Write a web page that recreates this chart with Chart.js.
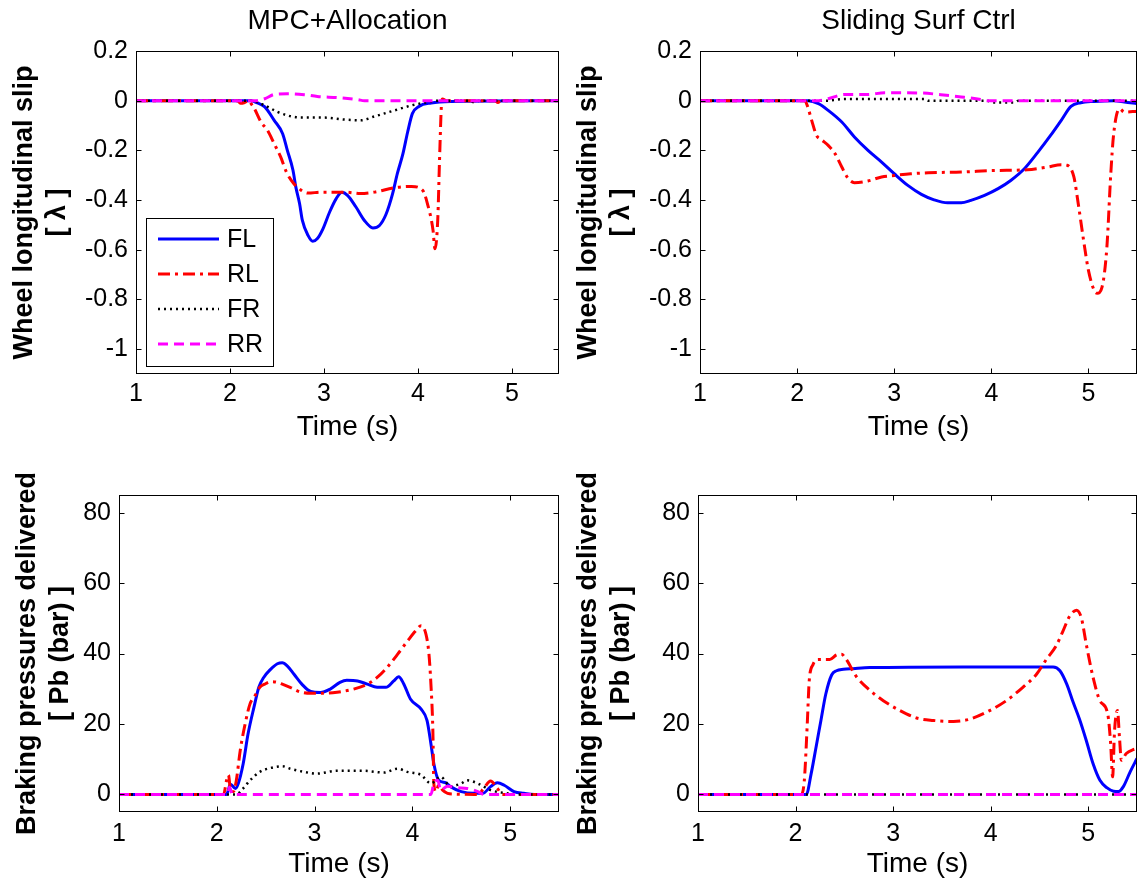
<!DOCTYPE html>
<html>
<head>
<meta charset="utf-8">
<title>Wheel slip and braking pressures</title>
<script src="https://cdn.jsdelivr.net/npm/chart.js@4.4.1/dist/chart.umd.min.js"></script>
<style>
  html, body { margin: 0; padding: 0; background: #fff; }
  #page { position: relative; width: 1141px; height: 884px; overflow: hidden; }
  canvas { position: absolute; }
</style>
</head>
<body>
<div id="page">
  <canvas id="mpcSlip" width="570" height="448" style="left:0;top:0"></canvas>
  <canvas id="smcSlip" width="571" height="448" style="left:570px;top:0"></canvas>
  <canvas id="mpcPress" width="570" height="436" style="left:0;top:448px"></canvas>
  <canvas id="smcPress" width="571" height="436" style="left:570px;top:448px"></canvas>
</div>
<script>
const FONT = "'Liberation Sans', Arial, Helvetica, sans-serif";

const wheels = ['FL', 'RL', 'FR', 'RR'];
const timeTicks = [1, 2, 3, 4, 5];
const slipTicks = [0.2, 0, -0.2, -0.4, -0.6, -0.8, -1];
const pressureTicks = [0, 20, 40, 60, 80];

// ---- MPC + allocation: wheel slip ----
const mpcSlipFL_t = [1, 2.22, 2.29, 2.37, 2.47, 2.56, 2.61, 2.67, 2.70, 2.74, 2.77, 2.83, 2.88, 2.93, 2.99, 3.06, 3.13, 3.19, 3.25, 3.34, 3.43, 3.52, 3.59, 3.66, 3.73, 3.78, 3.84, 3.89, 3.94, 4.01, 4.14, 4.35, 5.5];
const mpcSlipFL = [0, 0, -0.009, -0.025, -0.079, -0.133, -0.2, -0.28, -0.347, -0.414, -0.482, -0.542, -0.566, -0.555, -0.515, -0.448, -0.394, -0.369, -0.381, -0.428, -0.482, -0.512, -0.502, -0.457, -0.374, -0.294, -0.213, -0.126, -0.052, -0.023, -0.009, -0.003, 0];
const mpcSlipRL_t = [1, 2.08, 2.11, 2.15, 2.2, 2.23, 2.26, 2.33, 2.40, 2.47, 2.54, 2.6, 2.68, 2.76, 2.83, 2.97, 3.22, 3.39, 3.54, 3.75, 3.93, 4.05, 4.10, 4.16, 4.18, 4.21, 4.23, 4.25, 4.26, 4.30, 4.82, 4.85, 4.88, 5.5];
const mpcSlipRL = [0, 0, -0.01, -0.008, 0, -0.015, -0.032, -0.086, -0.12, -0.173, -0.227, -0.287, -0.334, -0.361, -0.372, -0.368, -0.368, -0.374, -0.368, -0.35, -0.345, -0.361, -0.414, -0.522, -0.596, -0.48, -0.227, -0.012, 0.007, 0, 0, -0.007, 0, 0];
const mpcSlipFR_t = [1, 2.22, 2.37, 2.51, 2.65, 2.76, 3.0, 3.22, 3.39, 3.54, 3.75, 3.93, 4.07, 4.21, 4.55, 4.6, 4.65, 5.5];
const mpcSlipFR = [0, 0, -0.019, -0.046, -0.063, -0.068, -0.068, -0.076, -0.079, -0.063, -0.039, -0.019, -0.008, 0, 0, -0.007, 0, 0];
const mpcSlipRR_t = [1, 2.26, 2.37, 2.47, 2.61, 2.79, 2.93, 3.15, 3.36, 3.43, 5.5];
const mpcSlipRR = [0, 0, 0.008, 0.025, 0.028, 0.024, 0.017, 0.012, 0.004, 0, 0];

// ---- Sliding surface control: wheel slip ----
const smcSlipFL_t = [1, 2.11, 2.22, 2.32, 2.46, 2.59, 2.73, 2.87, 3.0, 3.14, 3.28, 3.41, 3.55, 3.69, 3.79, 3.93, 4.07, 4.2, 4.34, 4.48, 4.61, 4.72, 4.82, 4.92, 5.06, 5.26, 5.37, 5.5];
const smcSlipFL = [0, 0, -0.012, -0.039, -0.086, -0.146, -0.2, -0.247, -0.294, -0.341, -0.377, -0.399, -0.411, -0.411, -0.401, -0.381, -0.354, -0.321, -0.274, -0.207, -0.14, -0.079, -0.023, -0.008, -0.003, 0, -0.005, -0.012];
const smcSlipRL_t = [1, 2.08, 2.11, 2.15, 2.2, 2.25, 2.32, 2.39, 2.46, 2.52, 2.59, 2.73, 2.87, 3.0, 3.17, 3.35, 3.69, 4.03, 4.37, 4.58, 4.72, 4.78, 4.85, 4.9, 4.95, 5.0, 5.06, 5.09, 5.14, 5.19, 5.23, 5.26, 5.32, 5.37, 5.5];
const smcSlipRL = [0, 0, -0.026, -0.079, -0.14, -0.157, -0.18, -0.213, -0.267, -0.31, -0.33, -0.323, -0.307, -0.301, -0.294, -0.29, -0.287, -0.281, -0.278, -0.267, -0.258, -0.26, -0.307, -0.428, -0.562, -0.683, -0.764, -0.775, -0.75, -0.589, -0.294, -0.133, -0.032, -0.046, -0.042];
const smcSlipFR_t = [1, 2.3, 2.49, 3.31, 3.35, 3.96, 4.0, 4.24, 4.28, 5.5];
const smcSlipFR = [0, 0, 0.007, 0.007, 0, 0, -0.007, -0.007, 0, 0];
const smcSlipRR_t = [1, 2.22, 2.32, 2.49, 2.73, 2.9, 3.28, 3.48, 3.69, 3.89, 3.96, 5.5];
const smcSlipRR = [0, 0, 0.008, 0.025, 0.025, 0.032, 0.031, 0.024, 0.015, 0.005, 0, 0];

// ---- MPC + allocation: brake pressures (bar) ----
const mpcPressFL_t = [1, 2.1, 2.14, 2.19, 2.22, 2.27, 2.32, 2.38, 2.43, 2.48, 2.55, 2.62, 2.67, 2.72, 2.79, 2.87, 2.96, 3.06, 3.16, 3.26, 3.33, 3.44, 3.54, 3.64, 3.73, 3.81, 3.86, 3.91, 3.98, 4.09, 4.15, 4.19, 4.22, 4.27, 4.34, 4.39, 4.5, 4.63, 4.72, 4.8, 4.87, 4.94, 5.04, 5.14, 5.25, 5.5];
const mpcPressFL = [0, 0, 2.9, 1.7, 3.1, 8.7, 17.2, 24.7, 30.4, 33.2, 35.5, 37.1, 37.4, 36.5, 34.1, 31.3, 29.2, 28.9, 29.9, 31.8, 32.4, 32.2, 31.3, 30.4, 30.4, 32.2, 33.4, 31.5, 27.1, 24.2, 21.0, 14.4, 8.7, 4.0, 3.3, 2.2, 0.8, 0.3, 0.3, 2.2, 3.3, 2.6, 0.8, 0.3, 0, 0];
const mpcPressRL_t = [1, 2.07, 2.1, 2.12, 2.14, 2.17, 2.2, 2.24, 2.29, 2.34, 2.39, 2.44, 2.49, 2.55, 2.62, 2.67, 2.75, 2.85, 2.96, 3.09, 3.23, 3.4, 3.54, 3.64, 3.74, 3.85, 3.95, 4.03, 4.09, 4.14, 4.17, 4.19, 4.21, 4.22, 4.24, 4.27, 4.31, 4.36, 4.43, 4.67, 4.73, 4.8, 4.87, 4.92, 5.5];
const mpcPressRL = [0, 0, 4.0, 5.5, 1.2, 0.8, 4.0, 12.5, 20.0, 25.7, 28.0, 30.4, 31.3, 32.0, 31.8, 31.3, 30.4, 29.1, 28.7, 28.7, 29.0, 29.9, 31.3, 33.2, 36.0, 39.8, 43.5, 46.3, 47.9, 45.4, 39.8, 31.3, 18.1, 3.1, 0.8, 2.6, 1.2, 0.3, 0.1, 0, 1.7, 3.8, 1.7, 0, 0];
const mpcPressFR_t = [1, 2.2, 2.27, 2.34, 2.44, 2.55, 2.67, 2.75, 2.89, 3.02, 3.23, 3.5, 3.71, 3.85, 3.95, 4.09, 4.19, 4.29, 4.39, 4.5, 4.56, 4.67, 4.8, 4.97, 5.04, 5.5];
const mpcPressFR = [0, 0, 1.7, 4.0, 6.4, 7.5, 8.0, 7.3, 6.4, 5.9, 6.7, 6.7, 6.2, 7.3, 6.4, 5.5, 3.1, 5.0, 2.3, 3.1, 4.0, 3.1, 1.2, 0.3, 0, 0];
const mpcPressRR_t = [1, 2.11, 2.13, 2.16, 4.19, 4.22, 4.26, 4.29, 4.36, 4.46, 4.56, 4.67, 4.73, 5.5];
const mpcPressRR = [0, 0, 2.0, 0, 0, 3.1, 4.0, 1.2, 2.3, 1.9, 1.7, 0.8, 0, 0];

// ---- Sliding surface control: brake pressures (bar) ----
const smcPressFL_t = [1, 2.11, 2.16, 2.21, 2.26, 2.31, 2.37, 2.42, 2.49, 2.59, 2.76, 3.72, 4.64, 4.71, 4.78, 4.84, 4.91, 4.98, 5.05, 5.12, 5.19, 5.26, 5.31, 5.36, 5.43, 5.5];
const smcPressFL = [0, 0, 5.9, 13.4, 21.0, 28.5, 33.9, 35.1, 35.5, 35.7, 36.0, 36.2, 36.2, 35.1, 31.3, 26.6, 21.4, 15.3, 8.7, 4.0, 1.9, 0.9, 0.8, 2.2, 6.4, 10.2];
const smcPressRL_t = [1, 2.06, 2.09, 2.12, 2.14, 2.18, 2.23, 2.35, 2.42, 2.47, 2.52, 2.62, 2.76, 2.9, 3.07, 3.24, 3.41, 3.62, 3.79, 3.99, 4.16, 4.33, 4.47, 4.57, 4.67, 4.74, 4.81, 4.88, 4.93, 4.98, 5.05, 5.12, 5.2, 5.23, 5.25, 5.27, 5.3, 5.32, 5.34, 5.39, 5.46, 5.5];
const smcPressRL = [0, 0, 4.0, 20.0, 32.2, 36.9, 38.3, 38.3, 39.6, 39.8, 38.3, 33.6, 29.6, 26.6, 23.8, 21.7, 21.0, 20.7, 21.4, 23.8, 26.6, 30.4, 34.1, 38.3, 42.1, 46.3, 50.6, 52.3, 50.1, 42.6, 33.2, 26.6, 22.8, 14.4, 5.0, 18.1, 23.8, 16.3, 9.7, 11.6, 12.7, 13.0];
const smcPressFR_t = [1, 5.5];
const smcPressFR = [0, 0];
const smcPressRR_t = [1, 5.5];
const smcPressRR = [0, 0];

// line style per wheel, same order as `wheels`
const wheelStyle = {
  FL: { color: '#0000ff', dash: [], width: 3 },
  RL: { color: '#ff0000', dash: [12, 5, 3, 5], width: 3 },
  FR: { color: '#000000', dash: [2, 4], width: 2.5 },
  RR: { color: '#ff00ff', dash: [10, 6], width: 3 }
};

function pairs(t, v) {
  return t.map((x, i) => ({ x: x, y: v[i] }));
}

function makeDatasets(series) {
  return wheels.map((w, i) => ({
    label: w,
    data: pairs(series[w][0], series[w][1]),
    borderColor: wheelStyle[w].color,
    borderWidth: wheelStyle[w].width,
    borderDash: wheelStyle[w].dash,
    pointRadius: 0,
    fill: false,
    cubicInterpolationMode: 'monotone',
    order: wheels.length - 1 - i
  }));
}

// box round the plot area plus inward tick marks on all four sides
const axesBox = {
  id: 'axesBox',
  afterDatasetsDraw(chart) {
    const { ctx, chartArea: a, scales } = chart;
    const L = Math.round(a.left) + 0.5, R = Math.round(a.right) - 0.5;
    const T = Math.round(a.top) + 0.5, B = Math.round(a.bottom) - 0.5;
    const len = 5;
    ctx.save();
    ctx.strokeStyle = '#000';
    ctx.lineWidth = 1;
    ctx.setLineDash([]);
    ctx.beginPath();
    scales.x.ticks.forEach(tk => {
      const px = Math.round(scales.x.getPixelForValue(tk.value)) + 0.5;
      ctx.moveTo(px, B); ctx.lineTo(px, B - len);
      ctx.moveTo(px, T); ctx.lineTo(px, T + len);
    });
    scales.y.ticks.forEach(tk => {
      const py = Math.round(scales.y.getPixelForValue(tk.value)) + 0.5;
      ctx.moveTo(L, py); ctx.lineTo(L + len, py);
      ctx.moveTo(R, py); ctx.lineTo(R - len, py);
    });
    ctx.stroke();
    ctx.strokeRect(L, T, R - L, B - T);
    ctx.restore();
  }
};

// MATLAB-like boxed legend in the upper-left panel
const boxLegend = {
  id: 'boxLegend',
  afterDraw(chart, args, opts) {
    if (!opts.show) return;
    const { ctx } = chart;
    const x0 = 146, y0 = 218, w = 127, h = 148;
    ctx.save();
    ctx.fillStyle = '#fff';
    ctx.fillRect(x0, y0, w, h);
    ctx.strokeStyle = '#000';
    ctx.lineWidth = 1;
    ctx.strokeRect(x0 + 0.5, y0 + 0.5, w, h);
    ctx.font = '25px ' + FONT;
    ctx.textBaseline = 'middle';
    chart.data.datasets.forEach((ds, i) => {
      const yy = y0 + 21 + i * 35;
      ctx.beginPath();
      ctx.strokeStyle = ds.borderColor;
      ctx.lineWidth = ds.borderWidth;
      ctx.setLineDash(ds.borderDash);
      ctx.moveTo(158, yy);
      ctx.lineTo(219, yy);
      ctx.stroke();
      ctx.setLineDash([]);
      ctx.fillStyle = '#000';
      ctx.fillText(ds.label, 227, yy + 1);
    });
    ctx.restore();
  }
};

// panel title drawn centred over the plot area
const panelTitle = {
  id: 'panelTitle',
  afterDraw(chart, args, opts) {
    if (!opts.text) return;
    const { ctx, chartArea: a } = chart;
    ctx.save();
    ctx.font = '28px ' + FONT;
    ctx.fillStyle = '#000';
    ctx.textAlign = 'center';
    ctx.textBaseline = 'middle';
    ctx.fillText(opts.text, (a.left + a.right) / 2, 21);
    ctx.restore();
  }
};

function makePanel(id, cfg) {
  const yTicks = cfg.yTicks;
  new Chart(document.getElementById(id), {
    type: 'line',
    data: { datasets: makeDatasets(cfg.series) },
    plugins: [axesBox, boxLegend, panelTitle],
    options: {
      responsive: false,
      animation: false,
      events: [],
      layout: { padding: { top: cfg.top, right: cfg.right, left: 0, bottom: 0 } },
      plugins: {
        legend: { display: false },
        tooltip: { enabled: false },
        boxLegend: { show: !!cfg.legend },
        panelTitle: { text: cfg.title || '' }
      },
      scales: {
        x: {
          type: 'linear', min: 1, max: 5.5,
          grid: { display: false, drawTicks: false },
          border: { display: false },
          afterBuildTicks: s => { s.ticks = timeTicks.map(v => ({ value: v })); },
          afterFit: s => { s.height = cfg.xh; },
          ticks: { color: '#000', font: { family: FONT, size: 25 }, padding: cfg.xTickPad, maxRotation: 0, autoSkip: false, callback: v => String(v) },
          title: { display: true, text: 'Time (s)', color: '#000', font: { family: FONT, size: 28 }, padding: { top: 0, bottom: cfg.xTitlePad } }
        },
        y: {
          type: 'linear', min: cfg.yMin, max: cfg.yMax,
          grid: { display: false, drawTicks: false },
          border: { display: false },
          afterBuildTicks: s => { s.ticks = yTicks.map(v => ({ value: v })); },
          afterFit: s => { s.width = cfg.yw; },
          ticks: { color: '#000', font: { family: FONT, size: 25 }, padding: 8, autoSkip: false, callback: v => String(v) },
          title: { display: true, text: cfg.yTitle, color: '#000', font: { family: FONT, size: 27, weight: 'bold', lineHeight: 1.22 }, padding: { top: cfg.yTitlePad, bottom: 0 } }
        }
      }
    }
  });
}

const slipTitle = ['Wheel longitudinal slip', '[ \u03bb ]'];
const pressTitle = ['Braking pressures delivered', '[ Pb (bar) ]'];

makePanel('mpcSlip', {
  title: 'MPC+Allocation', legend: true, yTitle: slipTitle, yTicks: slipTicks, yMin: -1.1, yMax: 0.2,
  top: 51, right: 11, yw: 136, xh: 74, xTickPad: 5, xTitlePad: 4, yTitlePad: 8,
  series: { FL: [mpcSlipFL_t, mpcSlipFL], RL: [mpcSlipRL_t, mpcSlipRL], FR: [mpcSlipFR_t, mpcSlipFR], RR: [mpcSlipRR_t, mpcSlipRR] }
});
makePanel('smcSlip', {
  title: 'Sliding Surf Ctrl', yTitle: slipTitle, yTicks: slipTicks, yMin: -1.1, yMax: 0.2,
  top: 51, right: 4, yw: 130, xh: 74, xTickPad: 5, xTitlePad: 4, yTitlePad: 2,
  series: { FL: [smcSlipFL_t, smcSlipFL], RL: [smcSlipRL_t, smcSlipRL], FR: [smcSlipFR_t, smcSlipFR], RR: [smcSlipRR_t, smcSlipRR] }
});
makePanel('mpcPress', {
  yTitle: pressTitle, yTicks: pressureTicks, yMin: -5, yMax: 85,
  top: 47, right: 11, yw: 119, xh: 72, xTickPad: 7, xTitlePad: 3, yTitlePad: 11,
  series: { FL: [mpcPressFL_t, mpcPressFL], RL: [mpcPressRL_t, mpcPressRL], FR: [mpcPressFR_t, mpcPressFR], RR: [mpcPressRR_t, mpcPressRR] }
});
makePanel('smcPress', {
  yTitle: pressTitle, yTicks: pressureTicks, yMin: -5, yMax: 85,
  top: 47, right: 4, yw: 128, xh: 72, xTickPad: 7, xTitlePad: 3, yTitlePad: 2,
  series: { FL: [smcPressFL_t, smcPressFL], RL: [smcPressRL_t, smcPressRL], FR: [smcPressFR_t, smcPressFR], RR: [smcPressRR_t, smcPressRR] }
});
</script>
</body>
</html>
